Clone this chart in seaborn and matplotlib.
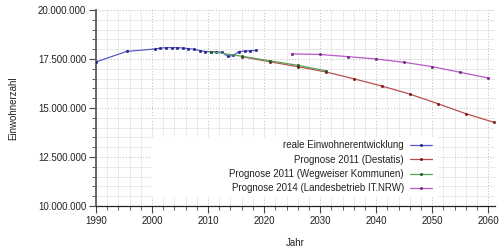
import numpy as np
import pandas as pd
import matplotlib
matplotlib.use("Agg")
import matplotlib.pyplot as plt
from matplotlib.ticker import MultipleLocator, FuncFormatter
from matplotlib.patches import Rectangle
import seaborn as sns

# --- data ---
real_years = [1990, 1995.5, 2000.5, 2001.5, 2002.5, 2003.5, 2004.5, 2005.5, 2006.5,
              2007.5, 2008.5, 2009.5, 2010.5, 2011.5, 2012.5, 2013.5, 2014.5,
              2015.5, 2016.5, 2017.5, 2018.5]
real_values = [17.35, 17.89, 18.01, 18.05, 18.08, 18.08, 18.08, 18.06, 18.03,
               18.00, 17.93, 17.88, 17.87, 17.87, 17.84, 17.63, 17.68,
               17.88, 17.90, 17.92, 17.94]

destatis_years = [2016, 2021, 2026, 2031, 2036, 2041, 2046, 2051, 2056, 2061]
destatis_values = [17.62, 17.36, 17.11, 16.84, 16.49, 16.12, 15.71, 15.22, 14.71, 14.27]

wegweiser_years = [2010.5, 2016, 2021, 2026, 2031]
wegweiser_values = [17.88, 17.64, 17.41, 17.18, 16.90]

itnrw_years = [2025, 2030, 2035, 2040, 2045, 2050, 2055, 2060]
itnrw_values = [17.76, 17.73, 17.62, 17.50, 17.33, 17.11, 16.82, 16.53]

series_names = ["reale Einwohnerentwicklung", "Prognose 2011 (Destatis)",
                "Prognose 2011 (Wegweiser Kommunen)",
                "Prognose 2014 (Landesbetrieb IT.NRW)"]
line_colors = ["#5a5ac6", "#b65050", "#5aa65a", "#b85ac8"]
marker_colors = ["#1e1e88", "#7a1010", "#1e5a1e", "#701e80"]

sns.set_theme(style="white")
plt.rcParams["font.family"] = ["Liberation Sans", "DejaVu Sans"]

fig = plt.figure(figsize=(5, 2.5), dpi=100)
ax = fig.add_axes([96 / 500, 1 - 206 / 250, (495 - 96) / 500, (206 - 10) / 250])

all_series = [(real_years, real_values), (destatis_years, destatis_values),
              (wegweiser_years, wegweiser_values), (itnrw_years, itnrw_values)]
for (xs, vs), name, lc, mc in zip(all_series, series_names, line_colors, marker_colors):
    df = pd.DataFrame({"Jahr": xs, "Einwohner": np.array(vs) * 1e6})
    sns.lineplot(data=df, x="Jahr", y="Einwohner", ax=ax, color=lc, lw=0.9,
                 marker="s", markersize=1.3, markerfacecolor=mc, markeredgecolor=mc,
                 markeredgewidth=0.5, label=name, zorder=3)

ax.set_xlim(1990, 2061.2)
ax.set_ylim(10e6, 20e6)
ax.xaxis.set_major_locator(MultipleLocator(10))
ax.xaxis.set_minor_locator(MultipleLocator(2))
ax.yaxis.set_major_locator(MultipleLocator(2.5e6))
ax.yaxis.set_minor_locator(MultipleLocator(0.5e6))
ax.yaxis.set_major_formatter(FuncFormatter(lambda v, p: f"{int(round(v)):,}".replace(",", ".")))

ax.grid(which="minor", color="#e6e6e6", lw=0.6, ls="-", zorder=0)
ax.grid(which="major", color="#b8b8b8", lw=0.7, ls=(0, (1, 2)), zorder=0)
ax.set_axisbelow(True)

for s in ["top", "right"]:
    ax.spines[s].set_visible(False)
ax.spines["left"].set_color("#666666")
ax.spines["left"].set_linewidth(1.4)
ax.spines["bottom"].set_color("#222222")
ax.spines["bottom"].set_linewidth(0.9)

ax.tick_params(which="major", direction="out", length=5, width=0.8, color="#444444",
               labelsize=7, labelcolor="#222222", pad=2, bottom=True, left=True)
ax.tick_params(which="minor", direction="out", length=3, width=0.6, color="#444444",
               bottom=True, left=True)

ax.set_xlabel("Jahr", fontsize=7, color="#222222", labelpad=9)
ax.set_ylabel("Einwohnerzahl", fontsize=7, color="#222222", labelpad=14)

# white legend background (gnuplot style)
ax.add_patch(Rectangle(((151 - 96) / 399, (206 - 197) / 196),
                       (438 - 151) / 399, (197 - 137) / 196,
                       transform=ax.transAxes, facecolor="white", edgecolor="none",
                       zorder=1))

leg = ax.legend(loc="center right", bbox_to_anchor=((432 - 96) / 399, (206 - 166.8) / 196),
                frameon=False, fontsize=7, markerfirst=False, borderpad=0,
                borderaxespad=0, handlelength=2.3, handletextpad=0.6,
                labelspacing=0.45, numpoints=1)
for t in leg.get_texts():
    t.set_color("#222222")

fig.savefig("out.png", dpi=100)
